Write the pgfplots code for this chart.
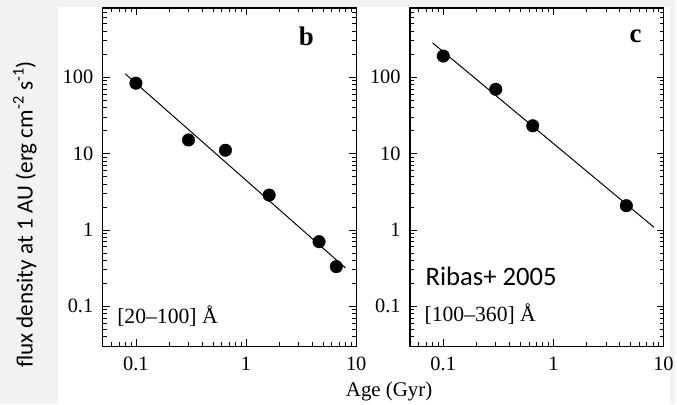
\documentclass[border=0pt]{standalone}
\usepackage{pgfplots}
\pgfplotsset{compat=1.18}
\usepackage{fontspec}
\setmainfont{Liberation Serif}
\newfontfamily\calibri{Carlito}
\begin{document}
\begin{tikzpicture}[x=1bp,y=1bp]
\fill[black!5] (0,0) rectangle (677,405);
\fill[white] (58,0) rectangle (672,398);
\begin{axis}[
  xmode=log, ymode=log, scale only axis, width=254bp, height=339bp,
  xmin=0.05, xmax=10, ymin=0.03, ymax=800,
  xtick={0.1,1,10}, xticklabels={0.1,1,10},
  ytick={0.1,1,10,100}, yticklabels={0.1,1,10,100},
  minor xtick={0.05,0.06,0.07,0.08,0.09,0.2,0.3,0.4,0.5,0.6,0.7,0.8,0.9,2,3,4,5,6,7,8,9},
  minor ytick={0.03,0.04,0.05,0.06,0.07,0.08,0.09,0.2,0.3,0.4,0.5,0.6,0.7,0.8,0.9,2,3,4,5,6,7,8,9,20,30,40,50,60,70,80,90,200,300,400,500,600,700,800},
  tick align=inside, major tick length=7bp, minor tick length=4bp,
  tick label style={font=\fontsize{20.5}{22}\selectfont},
  xticklabel style={yshift=-7bp},
  yticklabel style={xshift=-6bp},
  /pgf/number format/assume math mode=true,
  axis line style={line width=1.2pt},
  every tick/.style={black, line width=0.6pt},
  anchor=south west, clip=false, at={(103bp,58bp)}]
\addplot[black, line width=1pt] coordinates {(0.08,110) (8,0.317)};
\addplot[only marks, mark=*, mark size=6.3bp, black] coordinates {
(0.1,83) (0.3,15) (0.65,11) (1.62,2.85) (4.6,0.70) (6.6,0.33)};
\end{axis}
\begin{axis}[
  xmode=log, ymode=log, scale only axis, width=254bp, height=339bp,
  xmin=0.05, xmax=10, ymin=0.03, ymax=800,
  xtick={0.1,1,10}, xticklabels={0.1,1,10},
  ytick={0.1,1,10,100}, yticklabels={0.1,1,10,100},
  minor xtick={0.05,0.06,0.07,0.08,0.09,0.2,0.3,0.4,0.5,0.6,0.7,0.8,0.9,2,3,4,5,6,7,8,9},
  minor ytick={0.03,0.04,0.05,0.06,0.07,0.08,0.09,0.2,0.3,0.4,0.5,0.6,0.7,0.8,0.9,2,3,4,5,6,7,8,9,20,30,40,50,60,70,80,90,200,300,400,500,600,700,800},
  tick align=inside, major tick length=7bp, minor tick length=4bp,
  tick label style={font=\fontsize{20.5}{22}\selectfont},
  xticklabel style={yshift=-7bp},
  yticklabel style={xshift=-6bp},
  /pgf/number format/assume math mode=true,
  axis line style={line width=1.2pt},
  every tick/.style={black, line width=0.6pt},
  anchor=south west, clip=false, at={(411bp,58bp)}]
\addplot[black, line width=1pt] coordinates {(0.08,280) (8.2,1.08)};
\addplot[only marks, mark=*, mark size=6.3bp, black] coordinates {
(0.1,188) (0.3,69) (0.65,23) (4.6,2.07)};
\end{axis}
\node[font=\bfseries\fontsize{27}{29}\selectfont] at (307,369) {b};
\node[font=\bfseries\fontsize{27}{29}\selectfont] at (637,369) {c};
\node[anchor=west, font=\fontsize{21.8}{24}\selectfont] at (114,88) {[20–100] Å};
\node[anchor=west, font=\fontsize{21.8}{24}\selectfont] at (422,90) {[100–360] Å};
\node[anchor=west, font=\calibri\fontsize{26.8}{29}\selectfont] at (423,128) {Ribas+ 2005};
\node[font=\fontsize{21}{23}\selectfont] at (390,13) {Age (Gyr)};
\node[rotate=90, font=\calibri\fontsize{23.3}{25}\selectfont] at (25,190) {flux density at 1 AU (erg cm\textsuperscript{-2} s\textsuperscript{-1})};
\end{tikzpicture}
\end{document}
